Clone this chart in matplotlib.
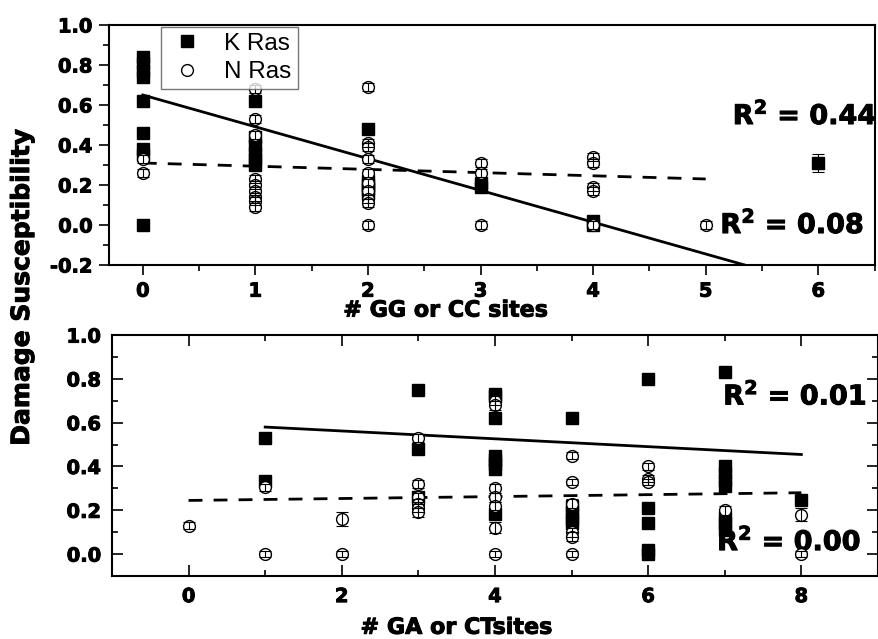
import matplotlib
matplotlib.use('Agg')
import matplotlib.pyplot as plt
import matplotlib.patheffects as pe
from matplotlib.ticker import MultipleLocator
from matplotlib.lines import Line2D

plt.rcParams['font.family'] = ['DejaVu Sans']
plt.rcParams['mathtext.default'] = 'bf'

# ── data: top panel (# GG or CC sites) ──
kras_gg_x = [0, 0, 0, 0, 0, 0, 0, 0, 0,
             1, 1, 1, 1, 1, 1,
             2, 2, 2, 2, 2,
             3, 3, 4, 4, 6]
kras_gg_y = [0.84, 0.81, 0.77, 0.74, 0.62, 0.46, 0.38, 0.35, 0.00,
             0.62, 0.44, 0.40, 0.36, 0.33, 0.30,
             0.48, 0.22, 0.20, 0.18, 0.16,
             0.21, 0.19, 0.02, 0.00, 0.31]
kras_gg_err = [0.01] * 24 + [0.045]

nras_gg_x = [0, 0,
             1, 1, 1, 1, 1, 1, 1, 1, 1,
             2, 2, 2, 2, 2, 2, 2, 2, 2, 2,
             3, 3, 3,
             4, 4, 4, 4, 4,
             5]
nras_gg_y = [0.33, 0.26,
             0.68, 0.53, 0.45, 0.23, 0.20, 0.17, 0.14, 0.12, 0.09,
             0.69, 0.41, 0.39, 0.33, 0.26, 0.21, 0.17, 0.13, 0.11, 0.00,
             0.31, 0.26, 0.00,
             0.34, 0.31, 0.19, 0.17, 0.00,
             0.00]
nras_gg_err = [0.02] * len(nras_gg_y)

kras_gg_fit = (0.65, -0.159, 0, 6)     # intercept, slope, x from, x to
nras_gg_fit = (0.31, -0.016, 0, 5)
r2_gg = ['0.44', '0.08']

# ── data: bottom panel (# GA or CT sites) ──
kras_ga_x = [1, 1,
             3, 3, 3,
             4, 4, 4, 4, 4, 4, 4, 4,
             5, 5, 5, 5, 5,
             6, 6, 6, 6, 6,
             7, 7, 7, 7, 7, 7, 7, 7,
             8]
kras_ga_y = [0.53, 0.335,
             0.75, 0.48, 0.26,
             0.73, 0.72, 0.62, 0.45, 0.43, 0.41, 0.39, 0.185,
             0.62, 0.22, 0.19, 0.16, 0.14,
             0.80, 0.21, 0.14, 0.02, 0.00,
             0.83, 0.40, 0.37, 0.34, 0.31, 0.17, 0.14, 0.11,
             0.245]
kras_ga_err = [0.01] * len(kras_ga_y)

nras_ga_x = [0,
             1, 1,
             2, 2,
             3, 3, 3, 3, 3, 3,
             4, 4, 4, 4, 4, 4, 4,
             5, 5, 5, 5, 5, 5,
             6, 6, 6,
             7,
             8, 8]
nras_ga_y = [0.13,
             0.305, 0.00,
             0.16, 0.00,
             0.53, 0.32, 0.26, 0.23, 0.21, 0.19,
             0.70, 0.68, 0.30, 0.26, 0.22, 0.12, 0.00,
             0.45, 0.33, 0.23, 0.10, 0.08, 0.00,
             0.40, 0.345, 0.33,
             0.20,
             0.18, 0.00]
nras_ga_err = [0.015,
               0.015, 0.015,
               0.03, 0.015,
               0.02, 0.02, 0.02, 0.02, 0.02, 0.02,
               0.02, 0.02, 0.02, 0.02, 0.02, 0.025, 0.015,
               0.015, 0.015, 0.02, 0.02, 0.02, 0.015,
               0.015, 0.015, 0.015,
               0.02,
               0.03, 0.015]

kras_ga_fit = (0.598, -0.0179, 1, 8)
nras_ga_fit = (0.245, 0.0044, 0, 8)
r2_ga = ['0.01', '0.00']

# heavier look, close to Arial Black
HEAVY = [pe.withStroke(linewidth=0.7, foreground='black')]


def draw_points(ax, x, y, err, marker, fc, zo):
    ax.errorbar(x, y, yerr=err, fmt='none', ecolor='black', elinewidth=0.8,
                capsize=4, capthick=0.8, zorder=zo + 1)
    ax.plot(x, y, ls='none', marker=marker, ms=8.5, mfc=fc, mec='black',
            mew=1.0, zorder=zo)


def draw_fit(ax, fit, dashed):
    b0, b1, x0, x1 = fit
    kw = dict(dashes=(5, 4)) if dashed else {}
    ax.plot([x0, x1], [b0 + b1 * x0, b0 + b1 * x1], color='black',
            lw=2.0, zorder=5, **kw)


def style_ticklabels(ax):
    for t in ax.get_xticklabels() + ax.get_yticklabels():
        t.set_fontsize(14)
        t.set_fontweight('bold')
        t.set_path_effects(HEAVY)


fig = plt.figure(figsize=(8.79, 6.39), dpi=100)
ax1 = fig.add_axes([0.124, 0.5853, 0.871, 0.3756])
ax2 = fig.add_axes([0.1274, 0.0986, 0.8714, 0.377])

# ─── top panel ───
draw_points(ax1, kras_gg_x, kras_gg_y, kras_gg_err, 's', 'black', 3)
draw_points(ax1, nras_gg_x, nras_gg_y, nras_gg_err, 'o', 'white', 6)
draw_fit(ax1, kras_gg_fit, False)
draw_fit(ax1, nras_gg_fit, True)
ax1.set_xlim(-0.3, 6.5)
ax1.set_ylim(-0.2, 1.0)
ax1.xaxis.set_major_locator(MultipleLocator(1))
ax1.xaxis.set_minor_locator(MultipleLocator(0.5))
ax1.yaxis.set_major_locator(MultipleLocator(0.2))
ax1.yaxis.set_minor_locator(MultipleLocator(0.1))
ax1.tick_params(which='both', direction='out', top=False, right=False,
                width=1.2)
ax1.tick_params(which='major', length=7, pad=5)
ax1.tick_params(which='minor', length=4)
ax1.set_yticks([-0.2, 0, 0.2, 0.4, 0.6, 0.8, 1.0])
ax1.set_yticklabels(['-0.2', '0.0', '0.2', '0.4', '0.6', '0.8', '1.0'])
ax1.set_xticks(range(0, 7))
ax1.set_xticklabels([str(i) for i in range(0, 7)])
style_ticklabels(ax1)
ax1.text(0.44, -0.19, '# GG or CC sites', transform=ax1.transAxes,
         ha='center', va='center', fontsize=16, fontweight='bold',
         path_effects=HEAVY)
ax1.text(5.24, 0.545, r'$R^2$ = ' + r2_gg[0], fontsize=19.5,
         fontweight='bold', ha='left', va='center', clip_on=False,
         path_effects=HEAVY)
ax1.text(5.13, 0.0, r'$R^2$ = ' + r2_gg[1], fontsize=19.5,
         fontweight='bold', ha='left', va='center', clip_on=False,
         path_effects=HEAVY)

handles = [Line2D([], [], ls='none', marker='s', ms=8.5, mfc='black',
                  mec='black'),
           Line2D([], [], ls='none', marker='o', ms=8.5, mfc='white',
                  mec='black')]
leg = ax1.legend(handles, ['K Ras', 'N Ras'], loc='upper left',
                 bbox_to_anchor=(0.068, 0.992), borderaxespad=0,
                 frameon=True, fancybox=False, edgecolor='#555555',
                 prop={'family': 'Liberation Sans', 'size': 17.5},
                 handletextpad=0.75, labelspacing=0.25, borderpad=0.25,
                 handlelength=1.6)
leg.get_frame().set_linewidth(1.0)
leg.set_zorder(10)

# ─── bottom panel ───
draw_points(ax2, kras_ga_x, kras_ga_y, kras_ga_err, 's', 'black', 3)
draw_points(ax2, nras_ga_x, nras_ga_y, nras_ga_err, 'o', 'white', 6)
draw_fit(ax2, kras_ga_fit, False)
draw_fit(ax2, nras_ga_fit, True)
ax2.set_xlim(-1, 9)
ax2.set_ylim(-0.1, 1.0)
ax2.xaxis.set_major_locator(MultipleLocator(2))
ax2.xaxis.set_minor_locator(MultipleLocator(1))
ax2.yaxis.set_major_locator(MultipleLocator(0.2))
ax2.yaxis.set_minor_locator(MultipleLocator(0.1))
ax2.tick_params(which='both', direction='in', top=True, right=True,
                width=1.2)
ax2.tick_params(which='major', length=8, pad=8)
ax2.tick_params(which='minor', length=4)
ax2.set_yticks([0, 0.2, 0.4, 0.6, 0.8, 1.0])
ax2.set_yticklabels(['0.0', '0.2', '0.4', '0.6', '0.8', '1.0'])
ax2.set_xticks([0, 2, 4, 6, 8])
ax2.set_xticklabels(['0', '2', '4', '6', '8'])
style_ticklabels(ax2)
ax2.text(0.45, -0.215, '# GA or CTsites', transform=ax2.transAxes,
         ha='center', va='center', fontsize=16, fontweight='bold',
         path_effects=HEAVY)
ax2.text(6.98, 0.72, r'$R^2$ = ' + r2_ga[0], fontsize=19.5,
         fontweight='bold', ha='left', va='center', clip_on=False,
         path_effects=HEAVY)
ax2.text(6.9, 0.055, r'$R^2$ = ' + r2_ga[1], fontsize=19.5,
         fontweight='bold', ha='left', va='center', clip_on=False,
         path_effects=HEAVY)

for ax in (ax1, ax2):
    for s in ax.spines.values():
        s.set_linewidth(1.5)

fig.text(0.025, 1 - 287 / 639, 'Damage Susceptibility', rotation=90,
         ha='center', va='center', fontsize=18, fontweight='bold',
         path_effects=HEAVY)

fig.savefig('out.png', dpi=100)
